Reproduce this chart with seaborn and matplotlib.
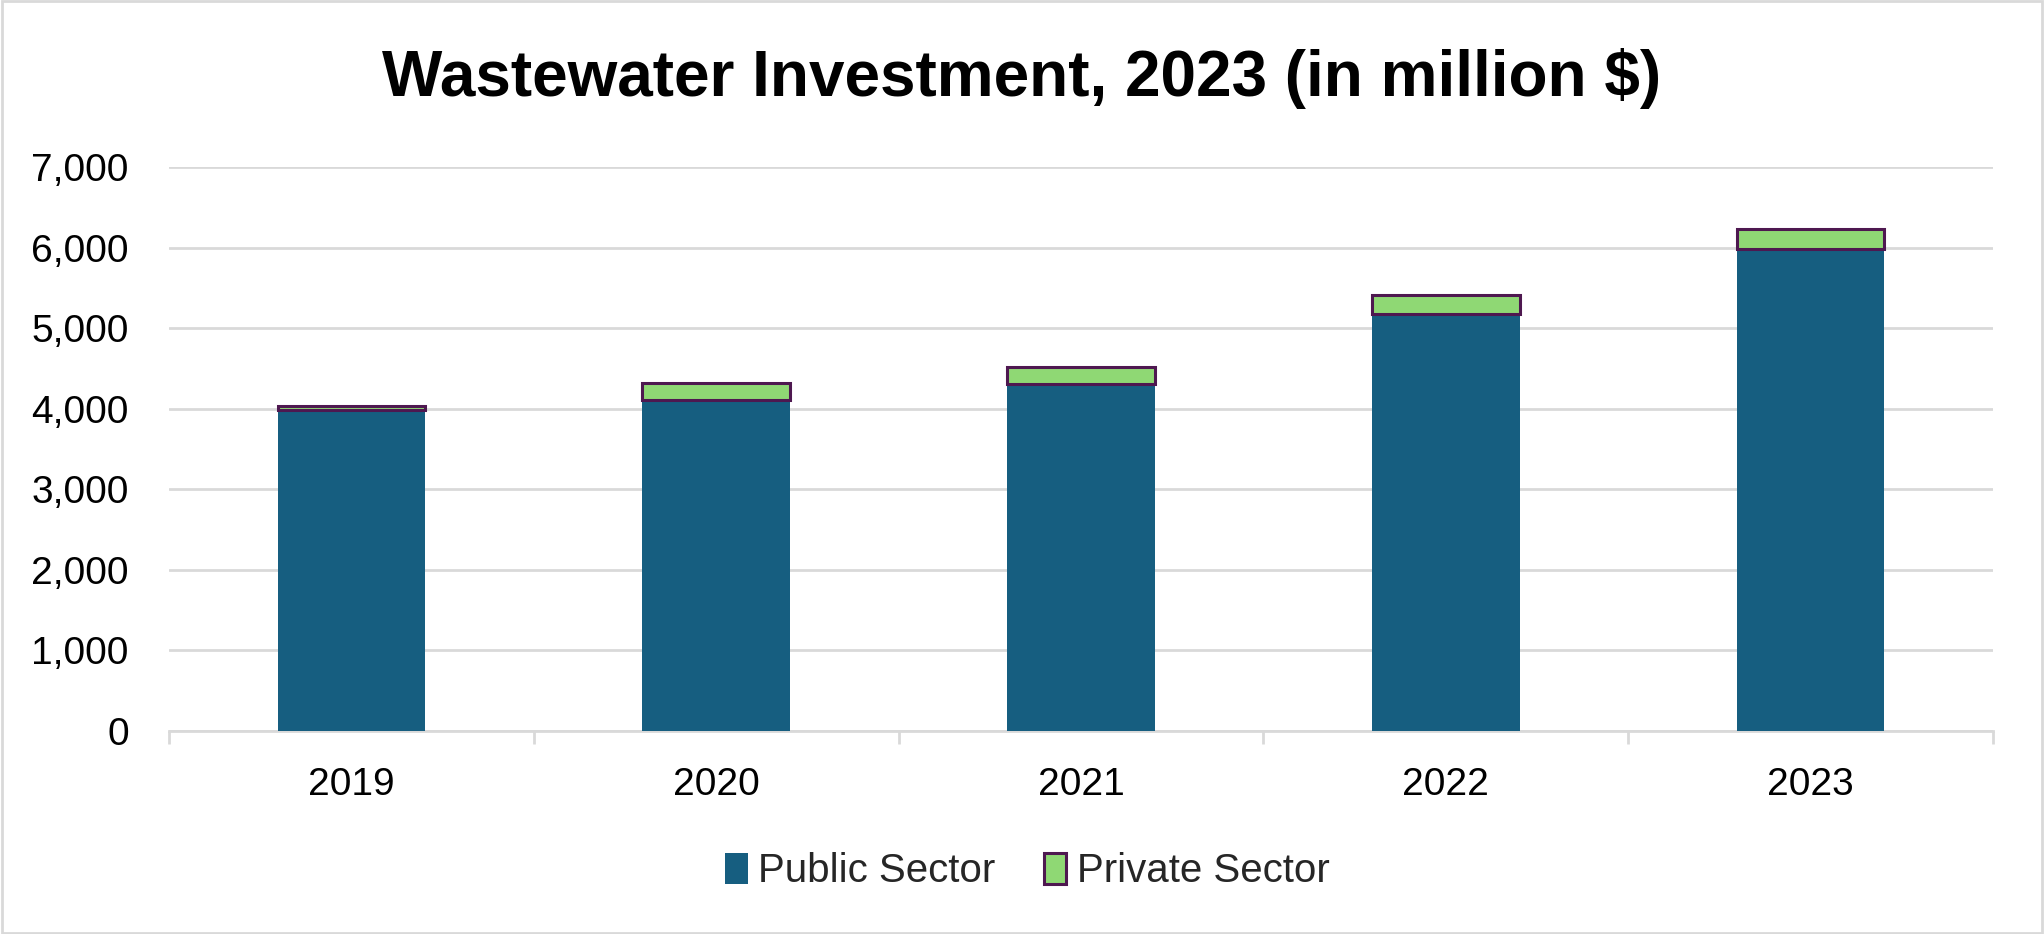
import matplotlib
matplotlib.use('Agg')
import matplotlib.pyplot as plt
import matplotlib.ticker as mticker
from matplotlib.patches import Patch, Rectangle
import pandas as pd
import seaborn as sns

# Chart data (million $)
years = ['2019', '2020', '2021', '2022', '2023']
public_sector = [3980, 4110, 4310, 5175, 5985]
private_sector = [50, 215, 205, 235, 250]
y_ticks = [0, 1000, 2000, 3000, 4000, 5000, 6000, 7000]

df = pd.DataFrame({'year': years, 'public': public_sector, 'private': private_sector})

sns.set_theme(style='white')
plt.rcParams['font.family'] = ['Liberation Sans', 'DejaVu Sans']

public_color = '#165E80'
private_color = '#8FD874'
private_edge = '#4E1850'
grid_color = '#D9D9D9'

fig = plt.figure(figsize=(20.44, 9.34), dpi=100)
ax = fig.add_axes([0.0827, 0.2173, 0.975 - 0.0827, 0.8212 - 0.2173])

sns.barplot(data=df, x='year', y='public', color=public_color, saturation=1,
            width=0.405, errorbar=None, linewidth=0, ax=ax, zorder=3)
sns.barplot(data=df, x='year', y='private', color=private_color, saturation=1,
            width=0.405, errorbar=None, bottom=df['public'].values,
            edgecolor=private_edge, linewidth=2.2, ax=ax, zorder=3)

ax.set_ylim(0, 7000)
ax.set_xlim(-0.5, 4.5)
ax.set_yticks(y_ticks)
ax.yaxis.set_major_formatter(mticker.FuncFormatter(lambda v, p: f'{int(v):,}'))
ax.grid(axis='y', color=grid_color, linewidth=2.0, zorder=0)
ax.set_axisbelow(True)

# category boundary ticks
ax.set_xticks([i - 0.5 for i in range(len(years) + 1)], minor=True)
ax.tick_params(axis='x', which='minor', length=9.5, width=2.0, color=grid_color, bottom=True)
ax.tick_params(axis='x', which='major', length=0, labelsize=28, pad=26, labelcolor='black')
ax.tick_params(axis='y', which='major', length=0, labelsize=28, pad=29, labelcolor='black')

for s in ['top', 'right', 'left']:
    ax.spines[s].set_visible(False)
ax.spines['bottom'].set_color(grid_color)
ax.spines['bottom'].set_linewidth(2.0)
ax.set_xlabel('')
ax.set_ylabel('')

fig.text(0.5, 0.916, 'Wastewater Investment, 2023 (in million $)', ha='center', va='center',
         fontsize=46, fontweight='bold', color='black')

handles = [Patch(facecolor=public_color, edgecolor=public_color, linewidth=0),
           Patch(facecolor=private_color, edgecolor=private_edge, linewidth=2.2)]
fig.legend(handles, ['Public Sector', 'Private Sector'], loc='center',
           bbox_to_anchor=(0.5025, 0.067), ncol=2, frameon=False, fontsize=29,
           handlelength=0.57, handleheight=0.8, handletextpad=0.25, columnspacing=1.2)

# outer chart border
fig.patches.append(Rectangle((0.0008, 0.0012), 0.9984, 0.9976, transform=fig.transFigure,
                             fill=False, edgecolor=grid_color, linewidth=2.0))

fig.savefig('out.png', dpi=100)
